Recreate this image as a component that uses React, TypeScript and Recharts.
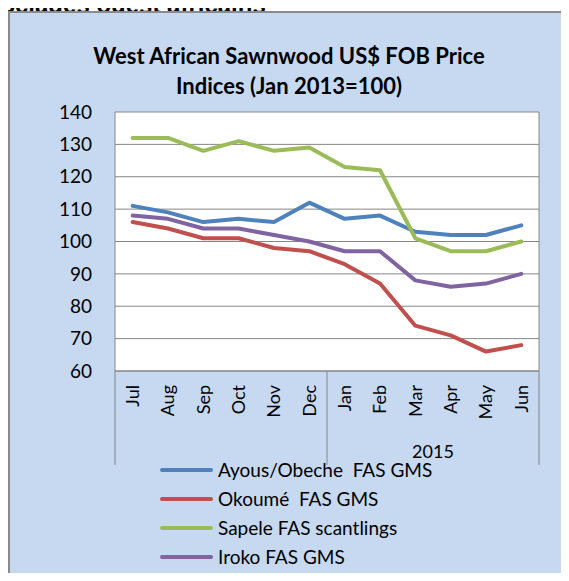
import React from 'react';
import { LineChart, Line, XAxis, YAxis, CartesianGrid, Legend } from 'recharts';

const MONTHS = ['Jul', 'Aug', 'Sep', 'Oct', 'Nov', 'Dec', 'Jan', 'Feb', 'Mar', 'Apr', 'May', 'Jun'];
const YEAR_GROUPS = [
  { label: '', start: 0, end: 5 },
  { label: '2015', start: 6, end: 11 },
];
const AYOUS = [111, 109, 106, 107, 106, 112, 107, 108, 103, 102, 102, 105];
const OKOUME = [106, 104, 101, 101, 98, 97, 93, 87, 74, 71, 66, 68];
const SAPELE = [132, 132, 128, 131, 128, 129, 123, 122, 101, 97, 97, 100];
const IROKO = [108, 107, 104, 104, 102, 100, 97, 97, 88, 86, 87, 90];
const Y_TICKS = [60, 70, 80, 90, 100, 110, 120, 130, 140];

const SERIES = [
  { key: 'ayous', name: 'Ayous/Obeche  FAS GMS', color: '#4F81BD', values: AYOUS },
  { key: 'okoume', name: 'Okoumé  FAS GMS', color: '#C0504D', values: OKOUME },
  { key: 'sapele', name: 'Sapele FAS scantlings', color: '#9BBB59', values: SAPELE },
  { key: 'iroko', name: 'Iroko FAS GMS', color: '#8064A2', values: IROKO },
];

const data = MONTHS.map((month, i) => {
  const row: Record<string, string | number> = { month };
  SERIES.forEach(s => { row[s.key] = s.values[i]; });
  return row;
});

const FONT = 'Lato, "Open Sans", sans-serif';
const GRID = '#868686';

const MonthTick = (props: any) => {
  const { x, y, payload, index } = props;
  const half = payload && payload.offset ? payload.offset : 17.67;
  const lines: React.ReactNode[] = [];
  YEAR_GROUPS.forEach((g, gi) => {
    if (index === g.start) {
      lines.push(<line key={'s' + gi} x1={x - half} x2={x - half} y1={y} y2={y + 94} stroke={GRID} strokeWidth={1} />);
      if (g.label) {
        const cx = x - half + (g.end - g.start + 1) * half;
        lines.push(
          <text key={'y' + gi} x={cx} y={y + 87} textAnchor="middle" fontSize={18} fontFamily={FONT} fill="#000">
            {g.label}
          </text>
        );
      }
    }
    if (index === g.end && gi === YEAR_GROUPS.length - 1) {
      lines.push(<line key={'e' + gi} x1={x + half} x2={x + half} y1={y} y2={y + 94} stroke={GRID} strokeWidth={1} />);
    }
  });
  return (
    <g>
      <text
        transform={`translate(${x},${y + 14}) rotate(-90)`}
        textAnchor="end"
        dy="0.35em"
        fontSize={18}
        fontFamily={FONT}
        fill="#000"
      >
        {payload.value}
      </text>
      {lines}
    </g>
  );
};

const LegendContent = (props: any) => {
  const items = props.payload || [];
  // keep the series order instead of the alphabetical sort
  const ordered = SERIES.map(s => items.find((it: any) => it.value === s.name)).filter(Boolean);
  return (
    <div style={{ fontFamily: FONT, fontSize: 19, color: '#000' }}>
      {ordered.map((it: any) => (
        <div key={it.value} style={{ display: 'flex', alignItems: 'center', height: 29 }}>
          <span style={{ display: 'inline-block', width: 53, height: 4, background: it.color, borderRadius: 2, marginRight: 5 }} />
          <span style={{ whiteSpace: 'pre' }}>{it.value}</span>
        </div>
      ))}
    </div>
  );
};

const App: React.FC = () => {
  return (
    <div style={{ position: 'relative', margin: -8, width: 569, height: 581, overflow: 'hidden', background: '#fff' }}>
      <div
        style={{
          position: 'absolute', left: -1, top: -7, fontFamily: '"Liberation Sans", Arial, sans-serif',
          fontWeight: 700, fontSize: 24, lineHeight: '24px', whiteSpace: 'nowrap', color: '#000',
        }}
      >
        Sciages ouest africains
      </div>
      <div style={{ position: 'absolute', left: 8, top: 11, width: 600, height: 600, border: '2px solid #8a8a8a', background: '#C6D9F1' }} />
      <div
        style={{
          position: 'absolute', left: 0, top: 41, width: 578, textAlign: 'center', fontFamily: FONT,
          fontWeight: 700, fontSize: 22, lineHeight: '30px', color: '#000',
        }}
      >
        West African Sawnwood US$ FOB Price<br />Indices (Jan 2013=100)
      </div>
      <div style={{ position: 'absolute', left: 0, top: 0 }}>
        <LineChart width={569} height={581} data={data} margin={{ top: 112, right: 30, bottom: 110, left: 0 }}>
          <CartesianGrid
            stroke={GRID}
            fill="#fff"
            fillOpacity={1}
            vertical
            verticalCoordinatesGenerator={({ offset }: any) => [offset.left + offset.width]}
          />
          <XAxis
            dataKey="month"
            scale="band"
            interval={0}
            height={100}
            tickLine={false}
            tickSize={0}
            tickMargin={0}
            axisLine={{ stroke: GRID }}
            tick={<MonthTick />}
          />
          <YAxis
            domain={[60, 140]}
            ticks={Y_TICKS}
            width={115}
            tickLine={false}
            tickSize={6}
            tickMargin={17}
            axisLine={{ stroke: GRID }}
            tick={{ fontSize: 19, fontFamily: FONT, fill: '#000' }}
          />
          <Legend
            layout="vertical"
            align="center"
            verticalAlign="middle"
            wrapperStyle={{ left: 160, top: 455, width: 380 }}
            content={<LegendContent />}
          />
          {SERIES.map(s => (
            <Line
              key={s.key}
              dataKey={s.key}
              name={s.name}
              stroke={s.color}
              strokeWidth={4}
              dot={false}
              activeDot={false}
              strokeLinejoin="round"
              strokeLinecap="round"
              isAnimationActive={false}
            />
          ))}
        </LineChart>
      </div>
    </div>
  );
};

export default App;
